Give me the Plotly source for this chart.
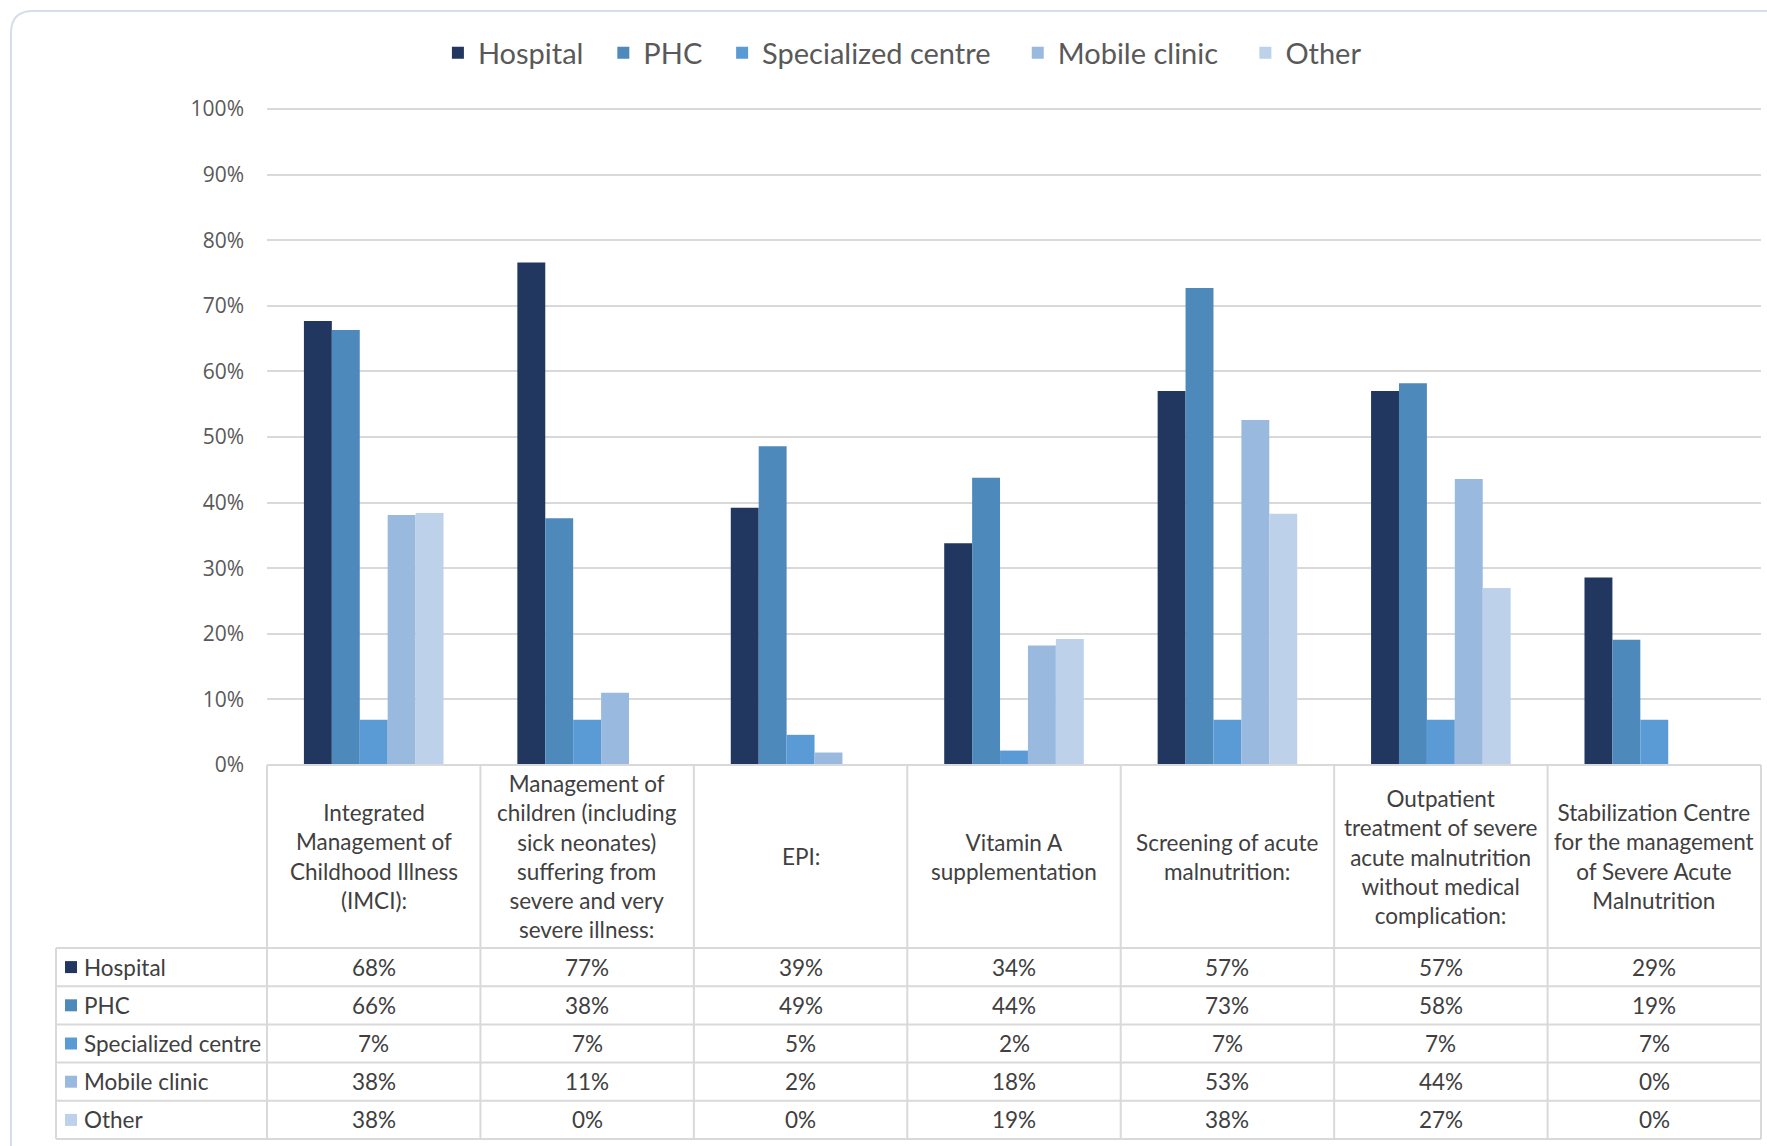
import plotly.graph_objects as go

W, H = 1767, 1146

categories = [
    "Integrated<br>Management of<br>Childhood Illness<br>(IMCI):",
    "Management of<br>children (including<br>sick neonates)<br>suffering from<br>severe and very<br>severe illness:",
    "EPI:",
    "Vitamin A<br>supplementation",
    "Screening of acute<br>malnutrition:",
    "Outpatient<br>treatment of severe<br>acute malnutrition<br>without medical<br>complication:",
    "Stabilization Centre<br>for the management<br>of Severe Acute<br>Malnutrition",
]
series_names = ["Hospital", "PHC", "Specialized centre", "Mobile clinic", "Other"]
hospital = [0.677, 0.766, 0.392, 0.338, 0.570, 0.570, 0.286]
phc = [0.663, 0.376, 0.486, 0.438, 0.727, 0.582, 0.191]
specialized = [0.069, 0.069, 0.046, 0.022, 0.069, 0.069, 0.069]
mobile = [0.381, 0.110, 0.019, 0.182, 0.526, 0.436, 0.0]
other = [0.384, 0.0, 0.0, 0.192, 0.383, 0.270, 0.0]
series_values = [hospital, phc, specialized, mobile, other]
colors = ["#213760", "#4E89BC", "#5B9BD5", "#9AB9DE", "#BED1EA"]
y_ticks = [0, 0.1, 0.2, 0.3, 0.4, 0.5, 0.6, 0.7, 0.8, 0.9, 1.0]

# legend spacing padding (non-breaking spaces after each name)
legend_pad = [2, 2, 3, 3, 0]

# layout geometry (pixels)
plot_left, plot_right = 267, 1761
plot_top, plot_bottom = 109, 765
header_bottom = 948
row_h = 38.2
label_left = 56
y_max = 1.004

def px(x):
    return x / W

def py(y):
    return 1 - y / H

n = len(categories)
dom = [px(plot_left), px(plot_right)]
col_w = (dom[1] - dom[0]) / n
dom_top_px = plot_bottom - (plot_bottom - plot_top) * y_max

fig = go.Figure()
for name, vals, c, pad in zip(series_names, series_values, colors, legend_pad):
    fig.add_trace(go.Bar(
        x=list(range(n)), y=vals, name=name + "\u00a0" * pad, marker_color=c,
        marker_line_width=0, hoverinfo="skip"))

grid_c = "#D9D9D9"
txt_c = "#404040"
font_t = "Lato, 'Open Sans', sans-serif"
fs = 22.5

shapes = []
annotations = []

# outer rounded border
r = 22
x0, y0 = 11, 11
shapes.append(dict(
    type="path", xref="paper", yref="paper",
    path=(f"M {px(x0)},{py(H+40)} L {px(x0)},{py(y0+r)} "
          f"Q {px(x0)},{py(y0)} {px(x0+r)},{py(y0)} L {px(W+40)},{py(y0)}"),
    line=dict(color="#D6DEEC", width=2), layer="below"))

# table header top line (axis line)
shapes.append(dict(type="line", xref="paper", yref="paper",
                   x0=dom[0], x1=dom[1], y0=py(plot_bottom), y1=py(plot_bottom),
                   line=dict(color=grid_c, width=2)))
# vertical column lines
for i in range(n + 1):
    xx = dom[0] + i * col_w
    shapes.append(dict(type="line", xref="paper", yref="paper",
                       x0=xx, x1=xx, y0=py(plot_bottom), y1=py(header_bottom + 5 * row_h),
                       line=dict(color=grid_c, width=2)))
# label column left line
shapes.append(dict(type="line", xref="paper", yref="paper",
                   x0=px(label_left), x1=px(label_left),
                   y0=py(header_bottom), y1=py(header_bottom + 5 * row_h),
                   line=dict(color=grid_c, width=2)))
# horizontal row lines
for j in range(6):
    yy = py(header_bottom + j * row_h)
    shapes.append(dict(type="line", xref="paper", yref="paper",
                       x0=px(label_left), x1=dom[1], y0=yy, y1=yy,
                       line=dict(color=grid_c, width=2)))

# header texts
for i, cat in enumerate(categories):
    annotations.append(dict(
        xref="paper", yref="paper", x=dom[0] + (i + 0.5) * col_w,
        y=py((plot_bottom + header_bottom) / 2), text=cat, showarrow=False,
        xanchor="center", yanchor="middle", align="center",
        font=dict(family=font_t, size=fs, color=txt_c)))

# row labels and values
for j, (name, vals, c) in enumerate(zip(series_names, series_values, colors)):
    yc = py(header_bottom + (j + 0.5) * row_h)
    shapes.append(dict(type="rect", xref="paper", yref="paper",
                       x0=px(label_left + 9), x1=px(label_left + 21),
                       y0=yc - 6 / H, y1=yc + 6 / H,
                       fillcolor=c, line=dict(width=0)))
    annotations.append(dict(
        xref="paper", yref="paper", x=px(label_left + 26), y=yc, text=name,
        showarrow=False, xanchor="left", yanchor="middle",
        font=dict(family=font_t, size=fs, color=txt_c)))
    for i, v in enumerate(vals):
        annotations.append(dict(
            xref="paper", yref="paper", x=dom[0] + (i + 0.5) * col_w, y=yc,
            text=f"{round(v * 100)}%", showarrow=False,
            xanchor="center", yanchor="middle",
            font=dict(family=font_t, size=fs, color=txt_c)))

fig.update_layout(
    width=W, height=H,
    margin=dict(l=0, r=0, t=0, b=0, pad=0, autoexpand=False),
    paper_bgcolor="white", plot_bgcolor="white",
    barmode="group", bargap=0.346, bargroupgap=0,
    showlegend=True,
    legend=dict(orientation="h", x=0.5107, xanchor="center", y=py(53), yanchor="middle",
                font=dict(family=font_t, size=29, color="#595959"),
                traceorder="normal", itemclick=False, itemdoubleclick=False),
    xaxis=dict(domain=dom, range=[-0.5, n - 0.5], showticklabels=False,
               showgrid=False, zeroline=False, showline=False, ticks=""),
    yaxis=dict(domain=[py(plot_bottom), py(dom_top_px)], range=[0, y_max],
               tickvals=y_ticks, tickformat=".0%",
               showgrid=True, gridcolor=grid_c, gridwidth=1.5,
               zeroline=False, showline=False, ticks="",
               ticklabelstandoff=22,
               tickfont=dict(family="'Open Sans', sans-serif", size=21, color="#595959")),
    shapes=shapes, annotations=annotations,
)

fig.write_html("out.html",
               config={"displayModeBar": False},
               post_script="document.body.style.margin='0px';document.body.style.overflow='hidden';")
